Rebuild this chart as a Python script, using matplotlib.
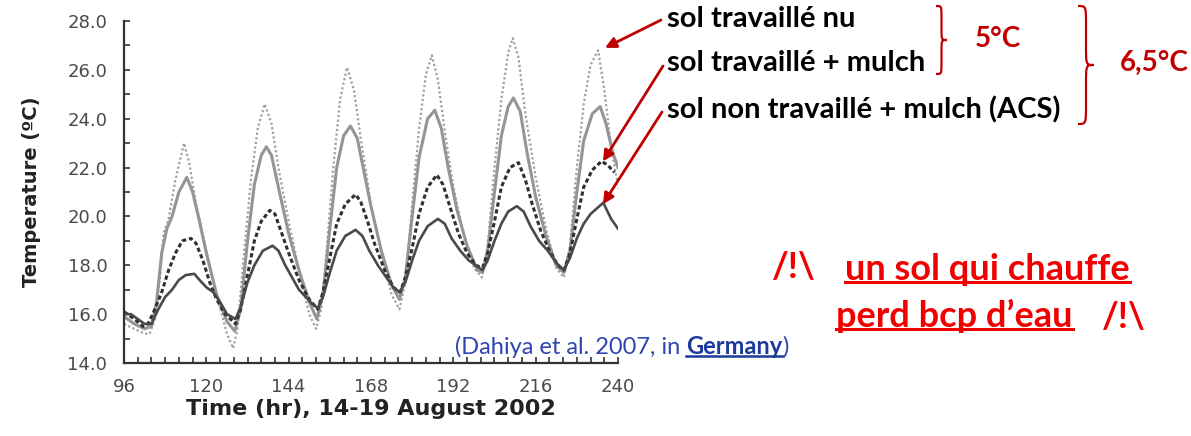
import matplotlib
matplotlib.use("Agg")
import matplotlib.pyplot as plt
from matplotlib.ticker import MultipleLocator, FormatStrFormatter
from matplotlib.path import Path
from matplotlib.patches import PathPatch
from matplotlib.lines import Line2D
from matplotlib.transforms import IdentityTransform

W, H = 1191, 436

# --- données (Dahiya et al. 2007) ---
# sol travaillé nu (pointillés clairs)
t_nu = [96, 99, 102, 103.5, 105, 106.5, 107.5, 109, 111, 113.5, 115, 117, 120, 123, 126, 127.8,
        129, 131, 133, 135, 137, 139, 141, 144, 147, 150, 152, 153.5, 155, 157, 159, 161, 163, 165,
        168, 171, 174, 176.3, 178, 180, 182, 184, 185.7, 187.5, 189.5, 192, 195, 198, 200.3, 202,
        204, 206, 208, 209.3, 211, 213, 216, 219, 222, 224.2, 226, 228, 230, 232, 234.2, 236, 238, 240.5]
temp_nu = [15.6, 15.4, 15.2, 15.2, 15.8, 17.5, 19.3, 19.9, 21.5, 23.0, 22.2, 20.5, 18.6, 16.8, 15.2, 14.6,
           15.3, 18.5, 21.5, 23.6, 24.6, 23.8, 22.0, 19.8, 17.8, 16.0, 15.4, 16.2, 18.5, 22.0, 24.8, 26.1, 25.2, 23.2,
           20.5, 18.5, 16.8, 16.2, 17.3, 20.5, 23.6, 25.8, 26.6, 25.6, 23.5, 21.2, 19.3, 17.9, 17.5, 18.8,
           22.0, 24.8, 26.7, 27.3, 26.5, 24.2, 21.6, 19.5, 17.9, 17.5, 18.8, 22.0, 24.6, 26.2, 26.8, 25.2, 22.8, 20.9]

# courbe grise intermédiaire (non légendée)
t_gris = [96, 99, 102, 104, 105.5, 107, 108.5, 110, 112, 114.3, 116, 118, 120, 123, 126, 128.3,
          130, 132, 134, 136, 137.5, 139, 141, 144, 147, 150, 152.2, 154, 156, 158, 160, 162, 164, 166,
          168, 171, 174, 176.3, 178, 180, 182, 184.5, 186.6, 188.5, 190.5, 193, 196, 199, 200.5, 202,
          204, 206, 208, 209.5, 211.5, 213.5, 216, 219, 222, 224.2, 226, 228, 230, 232.5, 234.8, 236.5, 238.5, 240]
temp_gris = [15.9, 15.6, 15.4, 15.5, 16.5, 18.5, 19.5, 20.0, 21.0, 21.6, 21.0, 19.8, 18.5, 16.8, 15.7, 15.3,
             16.2, 19.0, 21.3, 22.5, 22.85, 22.5, 21.2, 19.3, 17.8, 16.5, 15.8, 16.8, 19.5, 22.0, 23.3, 23.7, 23.2, 21.8,
             20.4, 18.6, 17.2, 16.6, 17.5, 20.0, 22.4, 24.0, 24.35, 23.6, 22.0, 20.3, 18.8, 17.8, 17.7, 18.6,
             21.0, 23.3, 24.5, 24.85, 24.3, 22.6, 20.8, 19.2, 18.0, 17.7, 18.6, 21.0, 23.1, 24.2, 24.5, 23.8, 22.6, 22.0]

# sol travaillé + mulch (tirets foncés)
t_mulch = [96, 99, 101.5, 103, 105, 107, 109, 111, 113, 115.5, 117, 119, 121, 123, 125.5, 128.5,
           130, 132, 134, 136, 138.5, 140, 142, 144, 147, 150, 152.5, 154, 156, 158, 160.5, 163.5, 165, 167,
           169, 172, 174.5, 176.5, 178, 180, 182, 184.5, 187.2, 189, 191, 193.5, 196, 198.5, 200.5, 202,
           204, 206, 208.5, 211, 213, 215, 217.5, 220, 222.5, 224.3, 226, 228, 230, 232.5, 235.2, 237, 239]
temp_mulch = [16.1, 15.8, 15.5, 15.6, 16.2, 16.9, 17.8, 18.5, 19.0, 19.1, 18.9, 18.2, 17.3, 16.6, 16.0, 15.6,
              16.2, 17.6, 19.0, 19.8, 20.25, 20.1, 19.3, 18.5, 17.4, 16.6, 16.2, 16.9, 18.3, 19.7, 20.5, 20.9, 20.6, 19.8,
              18.9, 17.8, 17.1, 16.9, 17.5, 18.7, 20.1, 21.2, 21.7, 21.3, 20.4, 19.3, 18.5, 18.0, 17.9, 18.5,
              19.8, 21.2, 22.0, 22.2, 21.5, 20.5, 19.4, 18.6, 18.0, 17.8, 18.5, 19.9, 21.2, 21.9, 22.26, 22.1, 21.8]

# sol non travaillé + mulch (ACS, trait plein foncé)
t_acs = [96, 98, 100, 102, 104, 106, 108, 110, 112, 114, 116.5, 118, 120, 122, 124, 126, 128.5,
         130, 132, 134, 136.5, 139.3, 141, 143, 145, 147, 149, 151, 152.5, 154, 156, 158, 160.5, 163.5,
         165.5, 167.5, 170, 172, 174.5, 176.3, 178, 180, 182, 184.5, 187.5, 189.5, 191.5, 194, 196.5,
         198.5, 200.5, 202, 204, 206, 208, 210.5, 212.5, 214.5, 217, 219.5, 222, 224.2, 226, 228, 230,
         232, 235.7, 238, 240.5]
temp_acs = [16.0, 16.0, 15.8, 15.6, 15.6, 16.2, 16.7, 17.0, 17.4, 17.6, 17.65, 17.4, 17.1, 16.9, 16.5, 16.0, 15.8,
            16.3, 17.3, 18.0, 18.6, 18.8, 18.6, 18.0, 17.5, 17.0, 16.7, 16.4, 16.25, 16.7, 17.7, 18.6, 19.2, 19.45,
            19.2, 18.6, 18.0, 17.6, 17.1, 16.9, 17.3, 18.2, 19.0, 19.6, 19.9, 19.7, 19.1, 18.6, 18.2,
            18.0, 17.8, 18.2, 19.0, 19.7, 20.2, 20.42, 20.2, 19.6, 19.0, 18.6, 18.1, 17.8, 18.3, 19.1, 19.7,
            20.1, 20.56, 19.9, 19.4]

labels = ["sol travaillé nu", "sol travaillé + mulch", "sol non travaillé + mulch (ACS)"]
ecarts = ["5°C", "6,5°C"]

# --- figure ---
fig = plt.figure(figsize=(W / 100, H / 100), dpi=100)


def fx(x):
    return x / W


def fy(y):
    return 1 - y / H


ax = fig.add_axes([fx(124), fy(363), 494 / W, 342 / H])
ax.plot(t_nu, temp_nu, color="#a0a0a0", lw=1.6, ls=(0, (1, 1.1)))
ax.plot(t_gris, temp_gris, color="#959595", lw=2.2)
ax.plot(t_mulch, temp_mulch, color="#303030", lw=2.2, ls=(0, (1.4, 0.9)))
ax.plot(t_acs, temp_acs, color="#4a4a4a", lw=1.9)

ax.set_xlim(96, 240)
ax.set_ylim(14, 28)
ax.xaxis.set_major_locator(MultipleLocator(24))
ax.xaxis.set_minor_locator(MultipleLocator(4))
ax.yaxis.set_major_locator(MultipleLocator(2))
ax.yaxis.set_minor_locator(MultipleLocator(1))
ax.yaxis.set_major_formatter(FormatStrFormatter("%.1f"))
for s in ["top", "right"]:
    ax.spines[s].set_visible(False)
for s in ["left", "bottom"]:
    ax.spines[s].set_linewidth(1.6)
    ax.spines[s].set_color("#333333")
ax.tick_params(which="both", direction="in", length=4, width=1.2, color="#333333")
ax.tick_params(axis="x", which="major", pad=11)
ax.tick_params(axis="y", which="major", pad=12)
for lab in ax.get_xticklabels() + ax.get_yticklabels():
    lab.set_fontfamily("DejaVu Sans")
    lab.set_fontsize(13)
    lab.set_color("#4a4a4a")
ax.set_xlabel("Time (hr), 14-19 August 2002", fontfamily="DejaVu Sans",
              fontweight="bold", fontsize=16, color="#222222", labelpad=2)
ax.set_ylabel("Temperature (ºC)", fontfamily="DejaVu Sans",
              fontweight="bold", fontsize=14, color="#222222", labelpad=19)

# --- étiquettes des courbes + flèches ---
rouge = "#c00000"
lignes_y = [19, 63, 110]
for lab, y in zip(labels, lignes_y):
    fig.text(fx(667), fy(y), lab, fontfamily="Lato", fontweight="bold",
             fontsize=21, color="black", va="center", ha="left")

cibles = [(236.2, 26.9), (235.6, 22.25), (235.6, 20.5)]
departs = [(661, 20), (663, 66), (662, 112)]
for (xt, yt), (xd, yd) in zip(cibles, departs):
    ax.annotate("", xy=(xt, yt), xycoords="data",
                xytext=(fx(xd), fy(yd)), textcoords="figure fraction",
                arrowprops=dict(arrowstyle="-|>", color=rouge, lw=2,
                                mutation_scale=16, shrinkA=0, shrinkB=0),
                annotation_clip=False)


def accolade(x, y0, y1, w, lw=1.6):
    m = (y0 + y1) / 2
    r = min(w * 1.2, (y1 - y0) / 6)
    xm = x + w / 2
    pts = [(x, y0), (xm, y0), (xm, y0), (xm, y0 + r),
           (xm, m - r), (xm, m), (xm, m), (x + w, m),
           (xm, m), (xm, m), (xm, m + r),
           (xm, y1 - r), (xm, y1), (xm, y1), (x, y1)]
    codes = [Path.MOVETO, Path.CURVE4, Path.CURVE4, Path.CURVE4,
             Path.LINETO, Path.CURVE4, Path.CURVE4, Path.CURVE4,
             Path.CURVE4, Path.CURVE4, Path.CURVE4,
             Path.LINETO, Path.CURVE4, Path.CURVE4, Path.CURVE4]
    p = Path([(fx(a), fy(b)) for a, b in pts], codes)
    fig.add_artist(PathPatch(p, fill=False, color=rouge, lw=lw, transform=fig.transFigure))


accolade(936, 6, 74, 11)
accolade(1078, 6, 124, 16)
fig.text(fx(975), fy(39), ecarts[0], fontfamily="Lato", fontweight="bold",
         fontsize=20, color=rouge, va="center", ha="left")
fig.text(fx(1120), fy(63), ecarts[1], fontfamily="Lato", fontweight="bold",
         fontsize=20, color=rouge, va="center", ha="left")

# --- source ---
fig.canvas.draw()
rend = fig.canvas.get_renderer()


def souligne(t, color, lw, dy):
    bb = t.get_window_extent(rend)
    fig.add_artist(Line2D([bb.x0, bb.x1], [bb.y0 + dy, bb.y0 + dy], color=color,
                          lw=lw, transform=IdentityTransform()))


bleu = "#2f45b0"
t1 = fig.text(fx(455), fy(347), "(Dahiya et al. 2007, in ", fontfamily="Lato",
              fontsize=17, color=bleu, va="center", ha="left")
x = t1.get_window_extent(rend).x1
t2 = fig.text(x / W, fy(347), "Germany", fontfamily="Lato", fontweight="bold",
              fontsize=17, color="#1c3a9c", va="center", ha="left")
x = t2.get_window_extent(rend).x1
fig.text(x / W, fy(347), ")", fontfamily="Lato", fontsize=17, color=bleu,
         va="center", ha="left")
souligne(t2, "#1c3a9c", 1.8, 3)

# --- avertissement ---
rouge_vif = "#f00000"
kw = dict(fontfamily="Lato", fontweight="bold", fontsize=26, color=rouge_vif,
          va="center", ha="left")
fig.text(fx(772), fy(268), "/!\\", **kw)
a1 = fig.text(fx(845), fy(270), "un sol qui chauffe", **kw)
a2 = fig.text(fx(836), fy(316), "perd bcp d’eau", **kw)
fig.text(fx(1102), fy(318), "/!\\", **kw)
souligne(a1, rouge_vif, 2.2, 4)
souligne(a2, rouge_vif, 2.2, 4)

fig.savefig("out.png", dpi=100)
